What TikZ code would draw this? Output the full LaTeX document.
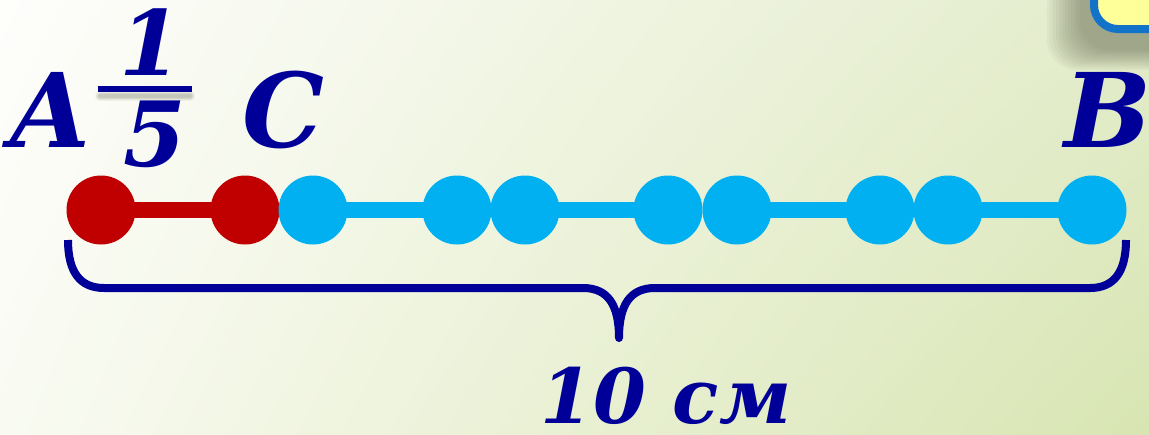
\documentclass[tikz,border=0pt]{standalone}
\usepackage{fontspec}
\setmainfont{DejaVu Serif}
\usetikzlibrary{shadings}
\definecolor{navy}{HTML}{000099}
\definecolor{dotred}{HTML}{C00000}
\definecolor{dotblue}{HTML}{00B0F0}
\definecolor{boxyellow}{HTML}{FFFF99}
\definecolor{boxblue}{HTML}{1273C9}
\definecolor{bgUL}{HTML}{FEFEFC}
\definecolor{bgUR}{HTML}{E3ECCB}
\definecolor{bgLL}{HTML}{F9FBF2}
\definecolor{bgLR}{HTML}{D8E5B2}
\definecolor{shadowgray}{HTML}{5A6048}
\pgfdeclarelayer{bg}
\pgfdeclarelayer{lines}
\pgfsetlayers{bg,lines,main}
\begin{document}
\begin{tikzpicture}[x=1pt,y=-1pt,
  dot/.style={circle,inner sep=0pt,minimum size=69pt},
  reddot/.style={dot,fill=dotred},
  bluedot/.style={dot,fill=dotblue},
  redlink/.style={draw=dotred,line width=16pt},
  bluelink/.style={draw=dotblue,line width=16pt},
  letter/.style={text=navy,font=\fontsize{103}{110}\selectfont\bfseries\itshape,inner sep=0pt,anchor=base,text depth=0pt},
  fracnum/.style={text=navy,font=\fontsize{90}{100}\selectfont\bfseries\itshape,inner sep=0pt,anchor=base},
  lengthlabel/.style={text=navy,font=\fontsize{76}{80}\selectfont\bfseries\itshape,inner sep=0pt,anchor=base,text depth=0pt},
  bracestyle/.style={draw=navy,line width=8pt,line join=round,line cap=butt}]
\useasboundingbox (0,0) rectangle (1149,434);
\clip (0,0) rectangle (1149,434);
\begin{pgfonlayer}{bg}
  \shade[upper left=bgUL,upper right=bgUR,lower left=bgLL,lower right=bgLR] (0,0) rectangle (1149,434);
\end{pgfonlayer}

% top-right box with soft shadow
\foreach \s in {33,30,...,0}{
  \fill[shadowgray,opacity=0.05,rounded corners=30pt] (1080-\s,-40) rectangle (1200,50+\s*0.6);
}
\draw[boxblue,line width=8pt,fill=boxyellow,rounded corners=24pt] (1094,-40) rectangle (1200,29);

% dots
\node[reddot]  (d1)  at (101,210) {};
\node[reddot]  (d2)  at (245,210) {};
\node[bluedot] (d3)  at (313,210) {};
\node[bluedot] (d4)  at (457,210) {};
\node[bluedot] (d5)  at (525,210) {};
\node[bluedot] (d6)  at (668,210) {};
\node[bluedot] (d7)  at (737,210) {};
\node[bluedot] (d8)  at (880,210) {};
\node[bluedot] (d9)  at (948,210) {};
\node[bluedot] (d10) at (1092,210) {};
\begin{pgfonlayer}{lines}
  \path[redlink]  (d1.center) -- (d2.center);
  \path[bluelink] (d3.center) -- (d4.center);
  \path[bluelink] (d5.center) -- (d6.center);
  \path[bluelink] (d7.center) -- (d8.center);
  \path[bluelink] (d9.center) -- (d10.center);
\end{pgfonlayer}

% labels
\node[letter] (A) at (50,147) {A};
\node[letter] (C) at (283,147) {C};
\node[letter] (B) at (1108,147) {B};

% fraction 1/5
\node[fracnum] (num) at (151,75) {1};
\node[fracnum] (den) at (155,166) {5};
\foreach \w/\o in {10/0.06,8/0.08,6/0.1,4/0.12}{
  \draw[shadowgray,opacity=\o,line width=\w pt,line cap=round] (100,96) -- (190,96);
}
\draw[navy,line width=5.5pt] (98,89) -- (192,89);

% brace
\coordinate (bl) at (68,240);
\coordinate (br) at (1126,240);
\coordinate (tip) at (619,338);
\draw[bracestyle] (bl) .. controls (68,272) and (80,288) .. (104,288)
  -- (583,288) .. controls (608,288) and (619,305) .. (tip)
  .. controls (619,305) and (630,288) .. (655,288)
  -- (1090,288) .. controls (1114,288) and (1126,272) .. (br);

\node[lengthlabel] (len) at (666,423) {10 см};
\end{tikzpicture}
\end{document}
